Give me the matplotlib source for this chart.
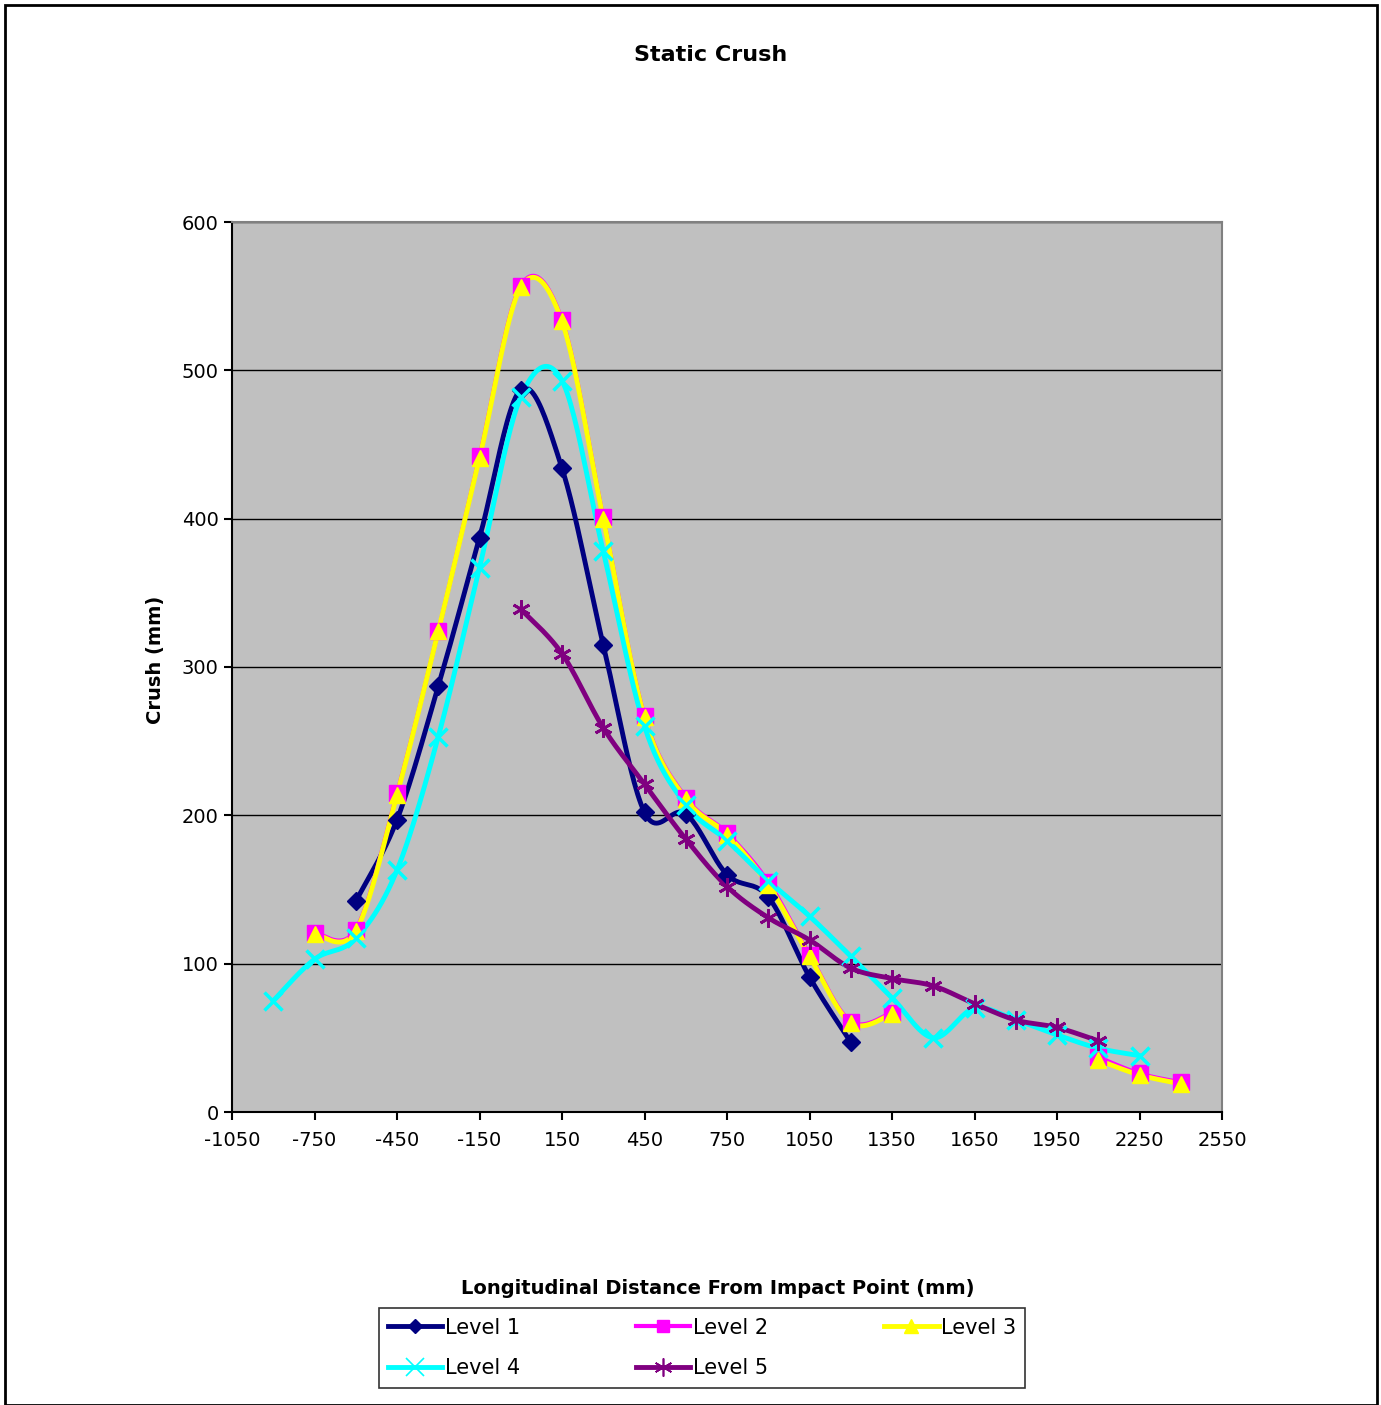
import numpy as np
import matplotlib
matplotlib.use("Agg")
import matplotlib.pyplot as plt
from matplotlib.patches import Rectangle

plt.rcParams["axes.unicode_minus"] = False

# ---- data ----
x1 = [-600, -450, -300, -150, 0, 150, 300, 450, 600, 750, 900, 1050, 1200]
y1 = [142, 197, 287, 387, 487, 434, 315, 202, 201, 160, 145, 91, 47]

x2 = [-750, -600, -450, -300, -150, 0, 150, 300, 450, 600, 750, 900, 1050, 1200, 1350, 2100, 2250, 2400]
y2 = [121, 123, 215, 324, 442, 557, 534, 401, 267, 212, 188, 155, 106, 61, 67, 37, 26, 20]

x3 = [-750, -600, -450, -300, -150, 0, 150, 300, 450, 600, 750, 900, 1050, 1200, 1350, 2100, 2250, 2400]
y3 = [120, 122, 214, 324, 441, 556, 533, 400, 266, 211, 187, 153, 105, 60, 66, 35, 25, 19]

x4 = [-900, -750, -600, -450, -300, -150, 0, 150, 300, 450, 600, 750, 900, 1050, 1200, 1350, 1500, 1650, 1800, 1950, 2100, 2250]
y4 = [75, 103, 117, 163, 253, 367, 482, 493, 378, 260, 207, 183, 156, 132, 105, 77, 50, 70, 62, 52, 43, 38]

x5 = [0, 150, 300, 450, 600, 750, 900, 1050, 1200, 1350, 1500, 1650, 1800, 1950, 2100]
y5 = [339, 309, 259, 221, 184, 152, 131, 116, 97, 90, 85, 73, 62, 57, 48]

labels = ["Level 1", "Level 2", "Level 3", "Level 4", "Level 5"]
xticks = list(range(-1050, 2551, 300))
yticks = list(range(0, 601, 100))


def bezier_chain(xs, ys, n=24):
    P = np.column_stack([xs, ys]).astype(float)
    if len(P) < 3:
        return P[:, 0], P[:, 1]
    P = np.vstack([P[0], P, P[-1]])
    out = []
    for i in range(1, len(P) - 2):
        p0, p1, p2, p3 = P[i - 1], P[i], P[i + 1], P[i + 2]
        c1 = p1 + (p2 - p0) / 6.0
        c2 = p2 - (p3 - p1) / 6.0
        t = np.linspace(0, 1, n, endpoint=(i == len(P) - 3))[:, None]
        seg = ((1 - t) ** 3) * p1 + 3 * ((1 - t) ** 2) * t * c1 + 3 * (1 - t) * t ** 2 * c2 + t ** 3 * p2
        out.append(seg)
    out = np.vstack(out)
    return out[:, 0], out[:, 1]


def runs(xs, ys, step=150):
    """split a series where values are missing (gap larger than one step)"""
    parts, cur_x, cur_y = [], [xs[0]], [ys[0]]
    for a in range(1, len(xs)):
        if xs[a] - xs[a - 1] > step:
            parts.append((cur_x, cur_y))
            cur_x, cur_y = [], []
        cur_x.append(xs[a])
        cur_y.append(ys[a])
    parts.append((cur_x, cur_y))
    return parts


fig = plt.figure(figsize=(13.81, 14.05), dpi=100)
fig.patch.set_facecolor("white")
fig.patches.append(Rectangle((5 / 1381, 0.0), 1372 / 1381, 1 - 5 / 1405, transform=fig.transFigure,
                             fill=False, edgecolor="black", linewidth=2))

ax = fig.add_axes([232 / 1381, 1 - 1112 / 1405, 990 / 1381, 890 / 1405])
ax.set_facecolor("#C0C0C0")
ax.set_xlim(-1050, 2550)
ax.set_ylim(0, 600)
ax.set_xticks(xticks)
ax.set_yticks(yticks)
ax.tick_params(axis="both", direction="out", length=6, width=1.5, labelsize=14, color="black")
ax.tick_params(axis="x", pad=8)
ax.yaxis.grid(True, color="black", linewidth=1)
ax.set_axisbelow(True)
for s in ["top", "right"]:
    ax.spines[s].set_color("#808080")
    ax.spines[s].set_linewidth(1.5)
for s in ["left", "bottom"]:
    ax.spines[s].set_color("black")
    ax.spines[s].set_linewidth(1.5)

series = [
    (x1, y1, "#000080", "D", 9, 3.5),
    (x2, y2, "#FF00FF", "s", 11, 3.0),
    (x3, y3, "#FFFF00", "^", 12, 3.5),
    (x4, y4, "#00FFFF", "x", 13, 3.5),
    (x5, y5, "#800080", "*", 13, 3.5),
]
handles = []
for (xs, ys, c, m, ms, lw), lab in zip(series, labels):
    for px, py in runs(xs, ys):
        sx, sy = bezier_chain(px, py)
        ax.plot(sx, sy, color=c, linewidth=lw, zorder=3)
    if m == "*":
        ax.plot(xs, ys, linestyle="none", marker=(6, 2, 0), markersize=ms, markeredgecolor=c,
                markeredgewidth=2, zorder=4)
        h, = ax.plot([], [], color=c, linewidth=lw, marker=(6, 2, 0), markersize=ms,
                     markeredgecolor=c, markeredgewidth=1.2)
    elif m == "x":
        ax.plot(xs, ys, linestyle="none", marker="x", markersize=ms, markeredgecolor=c,
                markeredgewidth=2.5, zorder=4)
        h, = ax.plot([], [], color=c, linewidth=lw, marker="x", markersize=ms,
                     markeredgecolor=c, markeredgewidth=1.2)
    else:
        ax.plot(xs, ys, linestyle="none", marker=m, markersize=ms, markerfacecolor=c,
                markeredgecolor=c, zorder=4)
        h, = ax.plot([], [], color=c, linewidth=lw, marker=m, markersize=ms * 0.8,
                     markerfacecolor=c, markeredgecolor=c)
    handles.append(h)

fig.text(711 / 1381, 1 - 55 / 1405, "Static Crush", ha="center", va="center",
         fontsize=16, fontweight="bold")
fig.text(718 / 1381, 1 - 1288 / 1405, "Longitudinal Distance From Impact Point (mm)", ha="center",
         va="center", fontsize=14, fontweight="bold")
fig.text(155 / 1381, 1 - 660 / 1405, "Crush (mm)", ha="center", va="center", rotation=90,
         fontsize=14, fontweight="bold")

order = [0, 3, 1, 4, 2]
leg = fig.legend(handles=[handles[i] for i in order], labels=[labels[i] for i in order], ncol=3,
                 loc="center", bbox_to_anchor=(702 / 1381, 1 - 1348 / 1405), frameon=True,
                 fancybox=False, fontsize=15, handlelength=2.6, handletextpad=0.1,
                 columnspacing=5.6, borderpad=0.45, labelspacing=1.0)
leg.get_frame().set_edgecolor("black")
leg.get_frame().set_linewidth(1.2)

fig.savefig("out.png", dpi=100)
